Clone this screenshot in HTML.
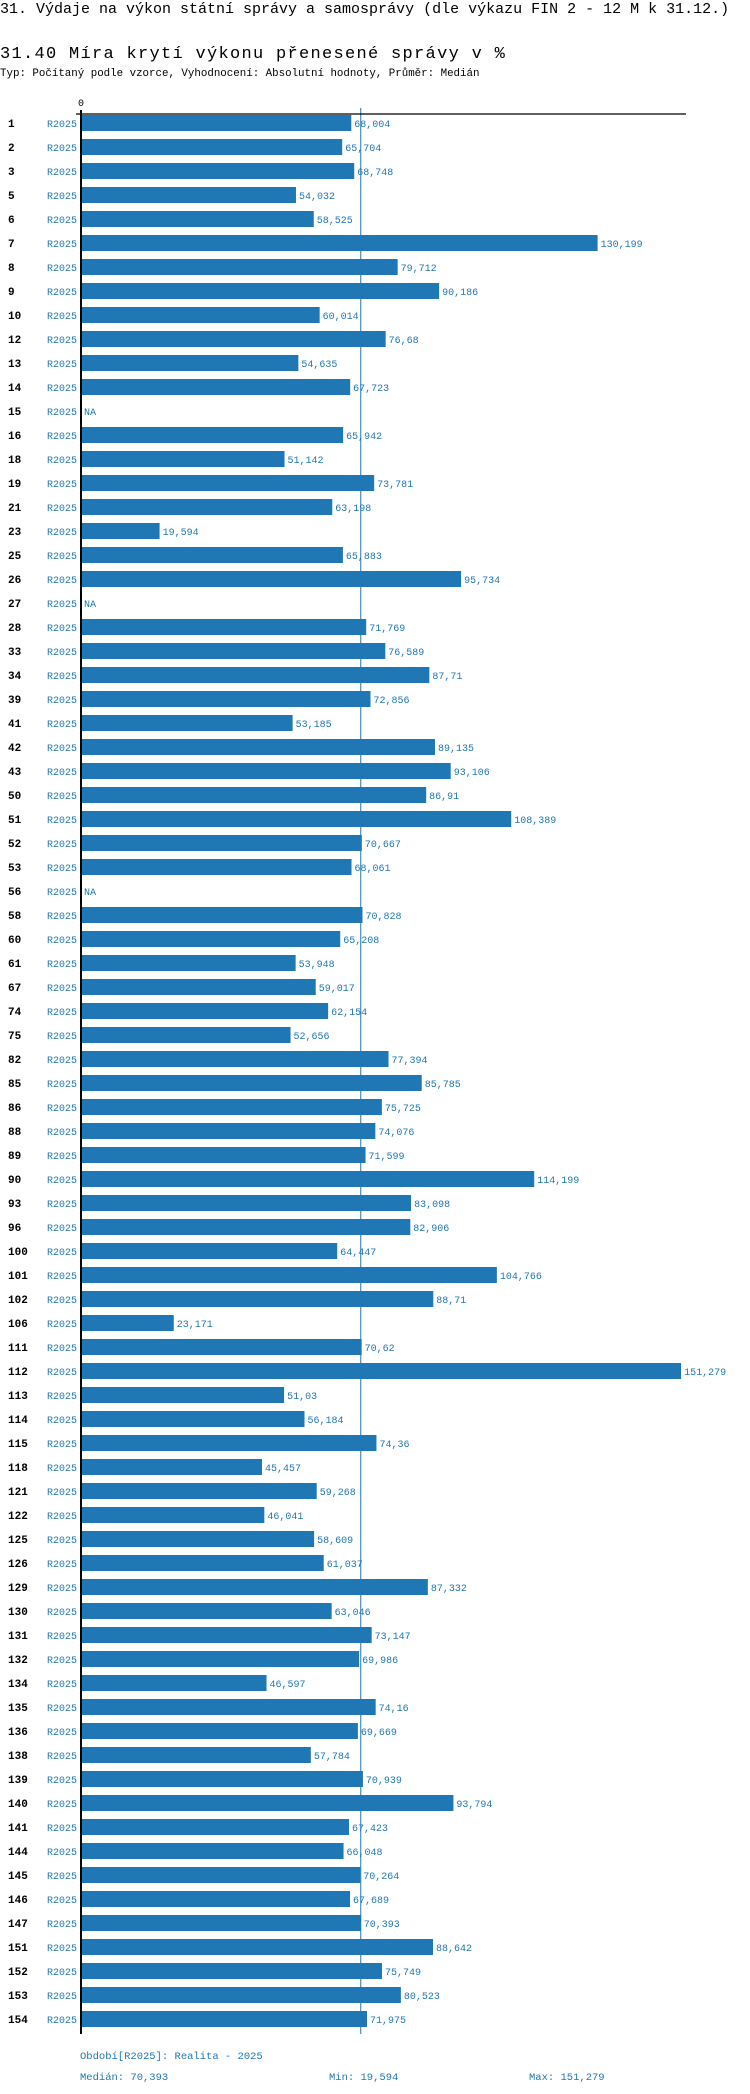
<!DOCTYPE html>
<html><head><meta charset="utf-8">
<style>
body{margin:0;background:#fff;}
svg{display:block;font-family:"Liberation Mono","DejaVu Sans Mono",monospace;}
</style></head>
<body>
<svg id="chart" width="750" height="2094" viewBox="0 0 750 2094" xmlns="http://www.w3.org/2000/svg">
<text x="0" y="13" font-size="15" fill="#000">31. Výdaje na výkon státní správy a samosprávy (dle výkazu FIN 2 - 12 M k 31.12.)</text>
<text x="0" y="58" font-size="17" letter-spacing="1.3" fill="#000">31.40 Míra krytí výkonu přenesené správy v %</text>
<text x="0" y="76" font-size="10.8" fill="#000">Typ: Počítaný podle vzorce, Vyhodnocení: Absolutní hodnoty, Průměr: Medián</text>
<g id="plot"></g>
<text x="80" y="2059" font-size="10.5" fill="#1f77b4">Období[R2025]: Realita - 2025</text>
<text x="80" y="2080" font-size="10.5" fill="#1f77b4">Medián: 70,393</text>
<text x="329" y="2080" font-size="10.5" fill="#1f77b4">Min: 19,594</text>
<text x="529" y="2080" font-size="10.5" fill="#1f77b4">Max: 151,279</text>
</svg>
<script>
const categories=["1","2","3","5","6","7","8","9","10","12","13","14","15","16","18","19","21","23","25","26","27","28","33","34","39","41","42","43","50","51","52","53","56","58","60","61","67","74","75","82","85","86","88","89","90","93","96","100","101","102","106","111","112","113","114","115","118","121","122","125","126","129","130","131","132","134","135","136","138","139","140","141","144","145","146","147","151","152","153","154"];
const values=[68.004,65.704,68.748,54.032,58.525,130.199,79.712,90.186,60.014,76.68,54.635,67.723,null,65.942,51.142,73.781,63.198,19.594,65.883,95.734,null,71.769,76.589,87.71,72.856,53.185,89.135,93.106,86.91,108.389,70.667,68.061,null,70.828,65.208,53.948,59.017,62.154,52.656,77.394,85.785,75.725,74.076,71.599,114.199,83.098,82.906,64.447,104.766,88.71,23.171,70.62,151.279,51.03,56.184,74.36,45.457,59.268,46.041,58.609,61.037,87.332,63.046,73.147,69.986,46.597,74.16,69.669,57.784,70.939,93.794,67.423,66.048,70.264,67.689,70.393,88.642,75.749,80.523,71.975];
const period="R2025";
const median=70.393;
(function(){
const NS="http://www.w3.org/2000/svg";
const g=document.getElementById('plot');
const x0=82, scale=3.96, plotTop=114, pitch=24, barH=16;
const xs=v=>x0+v*scale;
const yc=i=>plotTop+9+i*pitch;
function mk(tag,attrs){const e=document.createElementNS(NS,tag);for(const k in attrs)e.setAttribute(k,attrs[k]);g.appendChild(e);return e;}
const fmt=v=>String(v).replace('.',',');
const bottom=yc(categories.length-1)+15;
const ml=mk('line',{x1:xs(median),x2:xs(median),y1:108,y2:bottom,stroke:'#1f77b4','stroke-width':1});


categories.forEach((c,i)=>{
  const y=yc(i);
  const t=mk('text',{x:8,y:y+4,'font-size':11,'font-weight':'bold',fill:'#000'});t.textContent=c;
  
  
  const p=mk('text',{x:77,y:y+4,'font-size':10,'text-anchor':'end',fill:'#1f77b4'});p.textContent=period;
  
  
  const v=values[i];
  if(v==null){
    const n=mk('text',{x:x0+2,y:y+4,'font-size':10,fill:'#1f77b4'});n.textContent='NA';
    
    
  }else{
    const b=mk('rect',{x:x0,y:y-barH/2,width:xs(v)-x0,height:barH,fill:'#1f77b4'});
    
    
    const l=mk('text',{x:xs(v)+3,y:y+4,'font-size':10,fill:'#1f77b4'});l.textContent=fmt(v);
    
    
  }
});
const ax=mk('line',{x1:81,x2:81,y1:110,y2:bottom,stroke:'#000','stroke-width':2});


const tl=mk('line',{x1:76,x2:686,y1:114,y2:114,stroke:'#000','stroke-width':1.3});


const z=mk('text',{x:81,y:106,'font-size':10,'text-anchor':'middle',fill:'#000'});z.textContent='0';


})();
</script>
</body></html>
